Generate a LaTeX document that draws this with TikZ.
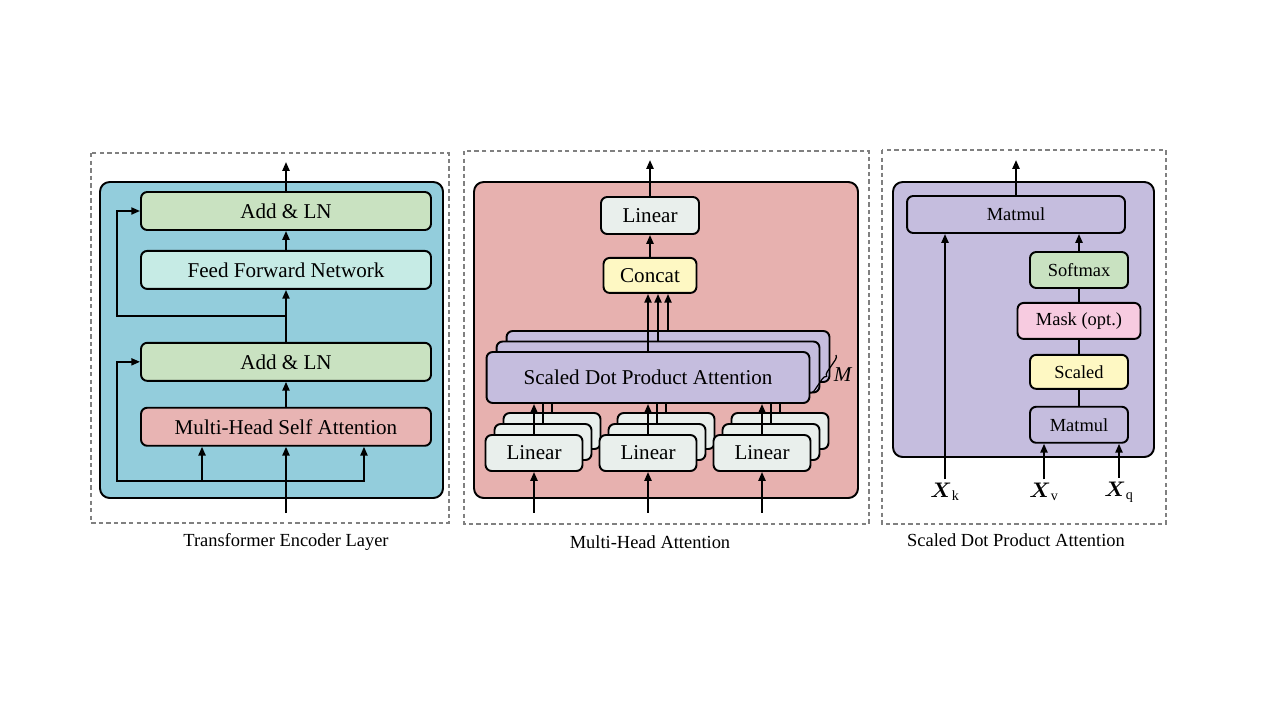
\documentclass[tikz,border=0pt]{standalone}
\usepackage{fontspec}
\setmainfont{Liberation Serif}
\usepackage{amsmath}
\usetikzlibrary{arrows.meta, positioning, decorations.pathreplacing}
\definecolor{bordeMarco}{gray}{0.5}
\definecolor{fondoAzul}{HTML}{93CDDC}
\definecolor{fondoRosa}{HTML}{E7B1AF}
\definecolor{fondoMorado}{HTML}{C5BDDE}
\definecolor{cajaVerde}{HTML}{C9E2C1}
\definecolor{cajaCian}{HTML}{C6EBE5}
\definecolor{cajaRosa}{HTML}{E8B4B3}
\definecolor{cajaGris}{HTML}{E9EFEC}
\definecolor{cajaAmarilla}{HTML}{FEF8C3}
\definecolor{cajaMascara}{HTML}{F7CBE0}

\begin{document}
\begin{tikzpicture}[
  x=0.02cm, y=-0.02cm,
  font=\fontsize{12}{14}\selectfont,
  marco/.style={draw=bordeMarco, line width=0.8pt, dash pattern=on 2.5pt off 1.8pt},
  panel/.style={draw=black, line width=1.1pt, rounded corners=5.5pt},
  caja/.style={draw=black, line width=1.1pt, rounded corners=3.5pt,
               inner sep=2pt, minimum height=0.76cm},
  chica/.style={caja, font=\fontsize{10.5}{12}\selectfont,
                minimum width=1.96cm, minimum height=0.72cm},
  pie/.style={font=\fontsize{10.5}{12}\selectfont},
  flecha/.style={-{Triangle[length=5pt, width=4pt]}, line width=1.1pt},
  linea/.style={line width=1.1pt}
]
\useasboundingbox (0,0) rectangle (1280,720);

% Transformer Encoder Layer
\draw[marco] (91,153) rectangle (449,523);
\draw[panel, fill=fondoAzul] (100,182) rectangle (443,498);

\node[caja, fill=cajaVerde, minimum width=5.8cm] (suma2) at (286,211) {Add \& LN};
\node[caja, fill=cajaCian, minimum width=5.8cm, below=0.38cm of suma2] (red) {Feed Forward Network};
\node[caja, fill=cajaVerde, minimum width=5.8cm, below=1.04cm of red] (suma1) {Add \& LN};
\node[caja, fill=cajaRosa, minimum width=5.8cm, below=0.5cm of suma1] (atencion) {Multi-Head Self Attention};

\coordinate (salidaI) at (286,162);
\coordinate (ramaI) at (286,316);
\coordinate (cruceI) at (286,481);
\coordinate (entradaI) at (286,513);

\draw[flecha] (suma2) -- (salidaI);
\draw[flecha] (red) -- (suma2);
\draw[flecha] (suma1) -- (red);
\draw[flecha] (atencion) -- (suma1);
\draw[flecha] (ramaI) -- ++(-169,0) |- (suma2.west);
\draw[flecha] (entradaI) -- (atencion);
\draw[flecha] (cruceI) -- ++(-169,0) |- (suma1.west);
\draw[flecha] (cruceI) -| ([xshift=1.56cm]atencion.south);
\draw[flecha] ([xshift=-1.68cm]cruceI) -- ([xshift=-1.68cm]atencion.south);

\node[pie] (pieI) at (286,542) {Transformer Encoder Layer};

% Multi-Head Attention
\draw[marco] (464,151) rectangle (869,524);
\draw[panel, fill=fondoRosa] (474,182) rectangle (858,498);

\node[caja, fill=cajaGris, minimum width=1.96cm, minimum height=0.74cm] (lineal) at (650,215.5) {Linear};
\node[caja, fill=cajaAmarilla, minimum width=1.86cm, minimum height=0.7cm, below=0.44cm of lineal] (concat) {Concat};

\foreach \i/\d in {3/2, 2/1}
  \node[caja, fill=fondoMorado, minimum width=6.46cm, minimum height=1.02cm]
    (sdpa\i) at ({648+10*\d},{377.5-10.5*\d}) {};
\node[caja, fill=fondoMorado, minimum width=6.46cm, minimum height=1.02cm]
  (sdpa1) at (648,377.5) {Scaled Dot Product Attention};

\foreach \g/\px in {1/534, 2/648, 3/762} {
  \foreach \c/\d in {3/2, 2/1}
    \node[caja, fill=cajaGris, minimum width=1.94cm, minimum height=0.72cm]
      (lin\g\c) at ({\px+9*\d},{453-11*\d}) {};
  \node[caja, fill=cajaGris, minimum width=1.94cm, minimum height=0.72cm]
    (lin\g1) at (\px,453) {Linear};
}

\foreach \g in {1,2,3} {
  \coordinate (entM\g) at ([yshift=-0.82cm]lin\g1.south);
  \draw[flecha] (entM\g) -- (lin\g1.south);
  \draw[flecha] (lin\g1.north) -- (lin\g1.north |- sdpa1.south);
  \draw[linea] (lin\g2.north) -- (lin\g2.north |- sdpa1.south);
  \draw[linea] (lin\g3.north) -- (lin\g3.north |- sdpa1.south);
}

\foreach \i in {1,2,3}
  \draw[flecha] (sdpa\i.north) -- (sdpa\i.north |- concat.south);
\draw[flecha] (concat) -- (lineal);
\coordinate (salidaM) at (650,160);
\draw[flecha] (lineal) -- (salidaM);

\coordinate (llaveA) at (836,355);
\coordinate (llaveB) at (810,393);
\draw[decorate, decoration={brace, amplitude=2.5pt}, line width=0.7pt] (llaveA) -- (llaveB);
\node (capas) at (843,375) {\textit{M}};

\node[pie] (pieM) at (650,542) {Multi-Head Attention};

% Scaled Dot Product Attention
\draw[marco] (882,150) rectangle (1166,524);
\draw[panel, fill=fondoMorado] (893,182) rectangle (1154,457);

\node[chica, fill=fondoMorado, minimum width=4.36cm, minimum height=0.74cm] (producto2) at (1016,214.5) {Matmul};
\node[chica, fill=cajaVerde] (softmax) at (1079,270) {Softmax};
\node[chica, fill=cajaMascara, minimum width=2.46cm, below=0.26cm of softmax] (mascara) {Mask (opt.)};
\node[chica, fill=cajaAmarilla, minimum height=0.68cm, below=0.28cm of mascara] (escala) {Scaled};
\node[chica, fill=fondoMorado, below=0.32cm of escala] (producto1) {Matmul};

\draw[linea] (producto1) -- (escala);
\draw[linea] (escala) -- (mascara);
\draw[linea] (mascara) -- (softmax);
\draw[flecha] (softmax) -- (softmax |- producto2.south);
\coordinate (salidaD) at (1016,160);
\draw[flecha] (producto2) -- (salidaD);

\node[inner sep=2pt] (xk) at (945,492) {$\boldsymbol{X}_{\mathrm{k}}$};
\node[inner sep=2pt] (xv) at (1044,492) {$\boldsymbol{X}_{\mathrm{v}}$};
\node[inner sep=2pt] (xq) at (1119,492) {$\boldsymbol{X}_{\mathrm{q}}$};
\draw[flecha] (xk) -- (xk |- producto2.south);
\draw[flecha] (xv) -- (xv |- producto1.south);
\draw[flecha] (xq) -- (xq |- producto1.south);

\node[pie] (pieD) at (1016,540) {Scaled Dot Product Attention};

\end{tikzpicture}
\end{document}
